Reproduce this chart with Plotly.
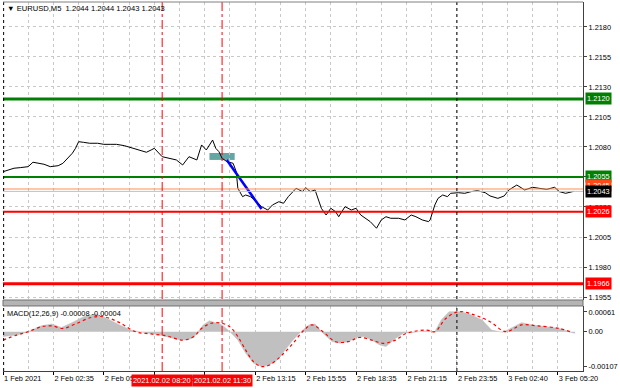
import plotly.graph_objects as go

# ---------------- data ----------------
price_idx = [0, 3, 7, 11, 16, 19, 23, 26, 30, 35, 38, 41, 44, 46, 48, 51, 55, 60, 64, 68,
             72, 77, 82, 87, 91, 94, 96, 101, 106, 110, 114, 118, 123, 126, 129, 133, 135, 137, 139, 142,
             146, 148, 149, 150, 152, 154, 157, 161, 164, 168, 171, 175, 178, 181, 186, 190, 192, 195, 198, 202,
             205, 208, 211, 213, 217, 221, 224, 227, 230, 233, 237, 240, 243, 246, 251, 255, 259, 262, 266, 270,
             271, 274, 276, 279, 282, 284, 289, 293, 297, 301, 306, 309, 314, 318, 321, 326, 331, 336, 340, 345,
             350, 353, 357, 362]
price_val = [1.20594, 1.20608, 1.20623, 1.20628, 1.20636, 1.20673, 1.20664, 1.20656, 1.20636, 1.20644,
             1.20664, 1.20706, 1.20748, 1.20789, 1.20844, 1.20839, 1.20831, 1.20831, 1.20822, 1.20822,
             1.20822, 1.20811, 1.20789, 1.20767, 1.20756, 1.20775, 1.20789, 1.20719, 1.20706, 1.20692,
             1.20650, 1.20719, 1.20692, 1.20817, 1.20775, 1.20858, 1.20789, 1.20761, 1.20706, 1.20678,
             1.20664, 1.20594, 1.20456, 1.20428, 1.20386, 1.20400, 1.20386, 1.20344, 1.20303, 1.20275,
             1.20317, 1.20344, 1.20331, 1.20386, 1.20456, 1.20428, 1.20461, 1.20428, 1.20442, 1.20289,
             1.20233, 1.20289, 1.20261, 1.20219, 1.20303, 1.20275, 1.20289, 1.20233, 1.20206, 1.20178,
             1.20123, 1.20192, 1.20219, 1.20206, 1.20206, 1.20192, 1.20233, 1.20219, 1.20192, 1.20178,
             1.20192, 1.20317, 1.20372, 1.20400, 1.20386, 1.20414, 1.20419, 1.20414, 1.20428, 1.20436,
             1.20419, 1.20392, 1.20372, 1.20392, 1.20442, 1.20483, 1.20442, 1.20464, 1.20456, 1.20447,
             1.20464, 1.20428, 1.20414, 1.20430]

hist_idx = [0, 9, 16, 24, 31, 37, 43, 51, 59, 66, 74, 81, 89, 99, 111, 117, 121, 123, 127, 131,
            135, 139, 144, 149, 154, 159, 164, 169, 174, 179, 184, 189, 194, 198, 203, 209, 214, 219, 224, 229,
            234, 239, 243, 249, 254, 261, 269, 274, 278, 283, 290, 296, 304, 310, 317, 324, 329, 336, 344, 353,
            361, 363]
hist_val = [-0.00015, -0.00010, 0.0, 0.00018, 0.00024, 0.00013, 0.00026, 0.00046, 0.00055, 0.00041,
            0.00021, 0.00005, -0.00002, -0.00010, -0.00024, -0.00026, -0.00018, -0.00005, 0.00021, 0.00034,
            0.00028, 0.00021, 0.0, -0.00026, -0.00067, -0.00098, -0.00108, -0.00103, -0.00088, -0.00057,
            -0.00026, 0.0, 0.00021, 0.00024, -0.00005, -0.00031, -0.00036, -0.00031, -0.00018, -0.00015,
            -0.00026, -0.00041, -0.00046, -0.00021, -0.00005, -0.00002, 0.00003, 0.0, 0.00036, 0.00062,
            0.00062, 0.00055, 0.00036, 0.00005, -0.00002, 0.00015, 0.00028, 0.00021, 0.00015, 0.00010,
            -0.00003, -0.00005]

sig_idx = [0, 9, 16, 24, 31, 38, 46, 56, 64, 74, 84, 94, 104, 114, 121, 126, 132, 139, 144, 149,
           154, 159, 164, 169, 176, 184, 191, 196, 203, 211, 219, 226, 234, 241, 249, 256, 269, 274, 281, 289,
           299, 309, 319, 329, 339, 353, 361]
sig_val = [-0.00026, -0.00010, 0.0, 0.00015, 0.00018, 0.00010, 0.00024, 0.00044, 0.00046, 0.00028,
           0.0, -0.00007, -0.00013, -0.00026, -0.00015, 0.00010, 0.00026, 0.00026, 0.00015, -0.00015,
           -0.00057, -0.00093, -0.00108, -0.00103, -0.00077, -0.00036, 0.00005, 0.00021, 0.0, -0.00031,
           -0.00031, -0.00018, -0.00026, -0.00036, -0.00026, -0.00005, 0.00005, 0.0, 0.00041, 0.00062,
           0.00052, 0.00031, 0.0, 0.00021, 0.00018, 0.00010, -0.00002]

x_tick_idx = [0, 32, 64, 96, 128, 160, 192, 224, 256, 288, 320, 352]
x_tick_text = ["1 Feb 2021", "2 Feb 02:35", "2 Feb 05:15", "2 Feb 07:55", "2 Feb 10:35",
               "2 Feb 13:15", "2 Feb 15:55", "2 Feb 18:35", "2 Feb 21:15", "2 Feb 23:55",
               "3 Feb 02:40", "3 Feb 05:20"]
price_ticks = [1.1955, 1.1980, 1.2005, 1.2030, 1.2055, 1.2080, 1.2105, 1.2130, 1.2155, 1.2180]
macd_ticks = [-0.00107, 0.0, 0.00061]
macd_tick_text = ["-0.00107", "0.00", "0.00061"]

level_prices = [1.2120, 1.2055, 1.2026, 1.1966]
level_text = ["1.2120", "1.2055", "1.2026", "1.1966"]
level_colors = ["#008000", "#008000", "#ff0000", "#ff0000"]
level_widths = [3, 2, 2, 3]
ask_price, bid_price = 1.2045, 1.2043
marker_idx = [101, 139]
marker_text = ["2021.02.02 08:20", "2021.02.02 11:30"]
day_sep_idx = [0.4, 288]
box_idx = [131, 147]
box_price = [1.20692, 1.20750]
trend_idx = [142, 164]
trend_price = [1.20692, 1.20283]

# ---------------- figure ----------------
FONT = "Liberation Sans"
GRID = "#c8c8c8"
main_dom = [0.1924, 1.0]
macd_dom = [0.0, 0.1762]

fig = go.Figure()
fig.add_trace(go.Scatter(x=price_idx, y=price_val, mode="lines",
                         line=dict(color="#000000", width=1), xaxis="x2", yaxis="y",
                         hoverinfo="skip"))
fig.add_trace(go.Scatter(x=trend_idx, y=trend_price, mode="lines",
                         line=dict(color="#0000ff", width=2.5), xaxis="x2", yaxis="y",
                         hoverinfo="skip"))
fig.add_trace(go.Scatter(x=hist_idx, y=hist_val, mode="lines", fill="tozeroy",
                         fillcolor="#c0c0c0", line=dict(color="#c0c0c0", width=0.5),
                         xaxis="x", yaxis="y2", hoverinfo="skip"))
fig.add_trace(go.Scatter(x=sig_idx, y=sig_val, mode="lines",
                         line=dict(color="#ff0000", width=1.2, dash="dot", shape="spline"),
                         xaxis="x", yaxis="y2", hoverinfo="skip"))

shapes = []
shapes.append(dict(type="rect", xref="x2", yref="y", x0=box_idx[0], x1=box_idx[1],
                   y0=box_price[0], y1=box_price[1], fillcolor="rgba(70,150,150,0.85)",
                   line=dict(width=0), layer="below"))
for p, c, w in zip(level_prices, level_colors, level_widths):
    shapes.append(dict(type="line", xref="x2 domain", yref="y", x0=0, x1=1, y0=p, y1=p,
                       line=dict(color=c, width=w)))
shapes.append(dict(type="line", xref="x2 domain", yref="y", x0=0, x1=1, y0=ask_price, y1=ask_price,
                   line=dict(color="#ff8c5a", width=1)))
shapes.append(dict(type="line", xref="x2 domain", yref="y", x0=0, x1=1, y0=bid_price, y1=bid_price,
                   line=dict(color="#c0c0c0", width=1)))
for xi in marker_idx:
    shapes.append(dict(type="line", xref="x", yref="paper", x0=xi, x1=xi, y0=0, y1=1,
                       line=dict(color="#ff0000", width=1, dash="dashdot")))
for xi in day_sep_idx:
    shapes.append(dict(type="line", xref="x", yref="paper", x0=xi, x1=xi, y0=0, y1=1,
                       line=dict(color="#000000", width=1, dash="dot")))
shapes.append(dict(type="rect", xref="paper", yref="paper", x0=0, x1=1,
                   y0=macd_dom[1], y1=main_dom[0], fillcolor="#b4b4b4",
                   line=dict(color="#707070", width=1)))
shapes.append(dict(type="line", xref="paper", yref="paper", x0=0, x1=1, y0=1, y1=1,
                   line=dict(color="#808080", width=1)))

annotations = []
annotations.append(dict(text="▼ EURUSD,M5  1.2044 1.2044 1.2043 1.2043", xref="paper", yref="paper",
                        x=0, y=0.9837, xanchor="left", yanchor="middle", xshift=2, showarrow=False,
                        font=dict(family=FONT, size=7.6, color="#000000")))
annotations.append(dict(text="MACD(12,26,9) -0.00008 -0.00004", xref="paper", yref="paper",
                        x=0, y=0.157, xanchor="left", yanchor="middle", xshift=2, showarrow=False,
                        font=dict(family=FONT, size=7.4, color="#000000")))
for p, t, c in zip(level_prices, level_text, level_colors):
    annotations.append(dict(text=t, xref="paper", yref="y", x=1, y=p, xanchor="left",
                            yanchor="middle", xshift=2, showarrow=False, bgcolor=c, borderpad=1,
                            font=dict(family=FONT, size=7.4, color="#ffffff")))
annotations.append(dict(text="1.2045", xref="paper", yref="y", x=1, y=ask_price, xanchor="left",
                        yanchor="middle", xshift=2, yshift=3, showarrow=False, bgcolor="#ff4a1a",
                        borderpad=1, font=dict(family=FONT, size=7.4, color="#ffffff")))
annotations.append(dict(text="1.2043", xref="paper", yref="y", x=1, y=bid_price, xanchor="left",
                        yanchor="middle", xshift=2, showarrow=False, bgcolor="#000000",
                        borderpad=1, font=dict(family=FONT, size=7.4, color="#ffffff")))
for xi, t in zip(marker_idx, marker_text):
    annotations.append(dict(text=t, xref="x", yref="paper", x=xi, y=-0.0244, xanchor="center",
                            yanchor="middle", showarrow=False, bgcolor="#ff0000", borderpad=1,
                            font=dict(family=FONT, size=7.4, color="#ffffff")))

xcommon = dict(range=[0, 368], showgrid=True, gridcolor=GRID, griddash="3px,3px", gridwidth=1,
               zeroline=False, tickmode="array", tickvals=x_tick_idx,
               minor=dict(tick0=0, dtick=16, showgrid=True, gridcolor=GRID, griddash="3px,3px",
                          ticklen=0))

fig.update_layout(
    width=620, height=388,
    margin=dict(l=3, r=33, t=2, b=17),
    paper_bgcolor="#ffffff", plot_bgcolor="#ffffff",
    showlegend=False,
    shapes=shapes, annotations=annotations,
    xaxis=dict(**xcommon, anchor="y2", ticktext=x_tick_text, ticks="outside", ticklen=3,
               tickcolor="#000000", ticklabelposition="outside right",
               tickfont=dict(family=FONT, size=7.4, color="#000000"),
               showline=True, linecolor="#404040", linewidth=1),
    xaxis2=dict(**xcommon, anchor="y", matches="x", showticklabels=False, ticks=""),
    yaxis=dict(domain=main_dom, range=[1.19525, 1.22008], side="right", anchor="x2",
               tickmode="array", tickvals=price_ticks, ticktext=[f"{v:.4f}" for v in price_ticks],
               showgrid=True, gridcolor=GRID, griddash="3px,3px", zeroline=False,
               ticks="outside", ticklen=3, tickcolor="#404040",
               tickfont=dict(family=FONT, size=7.4, color="#000000"),
               showline=True, linecolor="#404040", linewidth=1),
    yaxis2=dict(domain=macd_dom, range=[-0.001217, 0.000796], side="right", anchor="x",
                tickmode="array", tickvals=macd_ticks, ticktext=macd_tick_text,
                showgrid=False, zeroline=False, ticks="outside", ticklen=3, tickcolor="#404040",
                tickfont=dict(family=FONT, size=7.4, color="#000000"),
                showline=True, linecolor="#404040", linewidth=1),
)

fig.write_html("out.html",
               config={"displayModeBar": False},
               post_script="document.body.style.margin='0px';document.body.style.padding='0px';"
                           "document.body.style.overflow='hidden';")
